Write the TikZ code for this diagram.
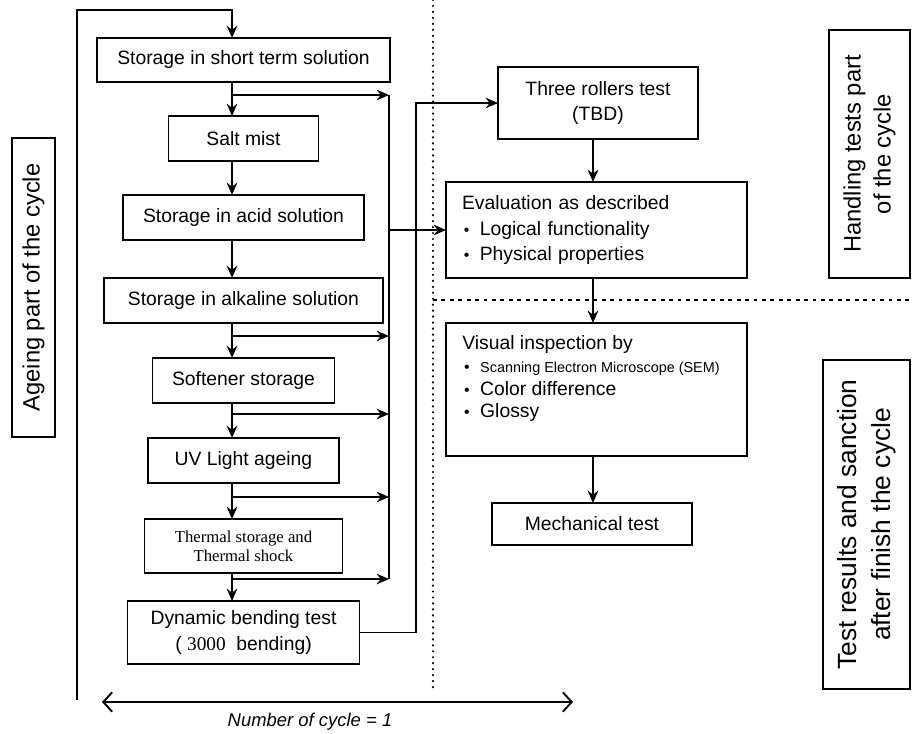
\documentclass[tikz,border=0pt]{standalone}
\usepackage{fontspec}
\setmainfont{Liberation Sans}
\newfontfamily\thermalfont{Liberation Serif}
\usetikzlibrary{positioning, calc, arrows.meta}

\begin{document}
\begin{tikzpicture}[
    stage/.style={rectangle, draw, line width=1.1pt, outer sep=0pt, align=center, inner sep=2pt, font=\fontsize{11}{14.5}\selectfont},
    sidelabel/.style={rectangle, draw, line width=1.1pt, rotate=90, align=center, font=\fontsize{13.5}{17}\selectfont},
    arrow/.style={->, >={Stealth[length=7pt, width=6pt]}, line width=1.1pt},
    dotline/.style={line width=1.4pt, line cap=round, dash pattern=on 0pt off 3.4pt},
    dashline/.style={line width=1pt, dash pattern=on 2.2pt off 2.6pt},
    cyclearrow/.style={{Straight Barb[length=5pt, width=11pt]}-{Straight Barb[length=5pt, width=11pt]}, line width=1.1pt}
]
\useasboundingbox (0,0) rectangle (18.24,-14.66);

% ageing part
\node[stage, minimum width=5.86cm, minimum height=0.88cm] (short) at (4.87,-1.2) {Storage in short term solution};
\node[stage, minimum width=3.0cm, minimum height=0.9cm, below=0.68cm of short] (salt) {Salt mist};
\node[stage, minimum width=4.82cm, minimum height=0.9cm, below=0.68cm of salt] (acid) {Storage in acid solution};
\node[stage, minimum width=5.58cm, minimum height=0.9cm, below=0.76cm of acid] (alkaline) {Storage in alkaline solution};
\node[stage, minimum width=3.64cm, minimum height=0.9cm, below=0.7cm of alkaline] (softener) {Softener storage};
\node[stage, minimum width=3.82cm, minimum height=0.9cm, below=0.7cm of softener] (uv) {UV Light ageing};
\node[stage, minimum width=3.96cm, minimum height=1.08cm, below=0.72cm of uv, font=\thermalfont\fontsize{9.5}{11}\selectfont] (thermal) {Thermal storage and\\Thermal shock};
\node[stage, minimum width=4.64cm, minimum height=1.26cm, below=0.56cm of thermal] (dynamic) {Dynamic bending test\\( {\thermalfont 3000}\ \ bending)};

\coordinate (spine) at (4.64,0);
\coordinate (bus) at (7.78,0);
\coordinate (turn) at (8.32,0);
\coordinate (col) at (11.86,0);

\foreach \a/\b in {short/salt, salt/acid, acid/alkaline, alkaline/softener, softener/uv, uv/thermal, thermal/dynamic}
    \draw[arrow] (\a.south -| spine) -- (\b.north -| spine);

\foreach \a/\d in {short/0.26, alkaline/0.26, softener/0.22, uv/0.28, thermal/0.12}{
    \coordinate (br-\a) at ($(\a.south -| spine)+(0,-\d)$);
    \draw[arrow] (br-\a) -- (br-\a -| bus);
}
\draw[line width=1.1pt] (br-short -| bus) -- (br-thermal -| bus);

% loop back to the start
\coordinate (loopbot) at (1.54,-14.0);
\coordinate (looptop) at (1.54,-0.2);
\draw[arrow] (loopbot) -- (looptop) -| (short.north -| spine);

% handling tests part
\node[stage, minimum width=4.0cm, minimum height=1.44cm] (rollers) at (11.96,-2.06) {Three rollers test\\(TBD)};
\node[stage, minimum width=6.02cm, minimum height=1.92cm, text width=5.38cm, inner xsep=0.32cm, align=left] (eval) at (11.93,-4.6)
{Evaluation as described\\\hspace*{1pt}{\small\textbullet}\hspace{6pt}Logical functionality\\\hspace*{1pt}{\small\textbullet}\hspace{6pt}Physical properties};

\draw[arrow] (dynamic.east) -| (turn |- rollers.west) -- (rollers.west);
\draw[arrow] (bus |- eval.west) -- (eval.west);
\draw[arrow] (rollers.south -| col) -- (eval.north -| col);

% test results part
\node[stage, minimum width=6.02cm, minimum height=2.66cm] (visual) at (11.93,-7.79) {};
\node[anchor=north west, align=left, inner sep=0pt, font=\fontsize{11}{13}\selectfont] (visualtext) at ($(visual.north west)+(0.32,-0.24)$)
{Visual inspection by\\\hspace*{1pt}{\small\textbullet}\hspace{6pt}{\fontsize{8.2}{13}\selectfont Scanning Electron Microscope (SEM)}\\\hspace*{1pt}{\small\textbullet}\hspace{6pt}Color difference\\\hspace*{1pt}{\small\textbullet}\hspace{6pt}Glossy};
\node[stage, minimum width=4.0cm, minimum height=0.84cm] (mech) at (11.84,-10.48) {Mechanical test};

\draw[arrow] (eval.south -| col) -- (visual.north -| col);
\draw[arrow] (visual.south -| col) -- (mech.north -| col);

% separators
\draw[dotline] (8.66,0) -- (8.66,-13.76);
\draw[dashline] (8.66,-6.0) -- (18.24,-6.0);

% side labels
\node[sidelabel, minimum width=5.98cm, minimum height=0.86cm] (ageing) at (0.67,-5.75) {Ageing part of the cycle};
\node[sidelabel, minimum width=4.96cm, minimum height=1.62cm] (handling) at (17.39,-3.08) {Handling tests part\\of the cycle};
\node[sidelabel, minimum width=6.58cm, minimum height=1.74cm, font=\fontsize{15}{19}\selectfont] (results) at (17.33,-10.49) {Test results and sanction\\after finish the cycle};

% number of cycles
\coordinate (cyclestart) at (2.04,-14.04);
\coordinate (cycleend) at (11.46,-14.04);
\draw[cyclearrow] (cyclestart) -- (cycleend);
\node[font=\fontsize{10.5}{12}\selectfont\itshape] (cyclelabel) at (6.2,-14.44) {Number of cycle = 1};
\end{tikzpicture}
\end{document}
